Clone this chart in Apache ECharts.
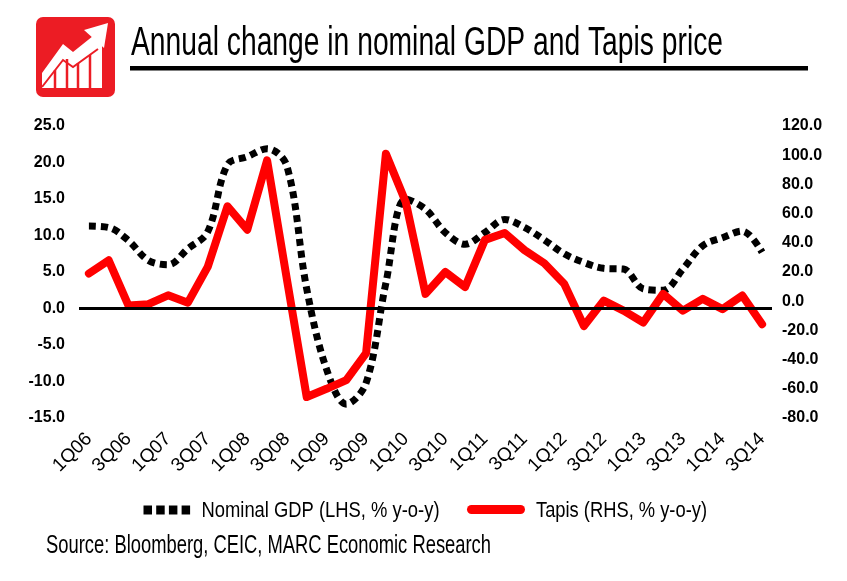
<!DOCTYPE html>
<html>
<head>
<meta charset="utf-8">
<title>Annual change in nominal GDP and Tapis price</title>
<script src="https://cdn.jsdelivr.net/npm/echarts@6/dist/echarts.min.js"></script>
<style>
html,body{margin:0;padding:0;background:#fff;}
#chart{width:847px;height:581px;}
</style>
</head>
<body>
<div id="chart"></div>
<script>
// x axis: quarters 1Q06 - 3Q14
var quarters = ['1Q06','2Q06','3Q06','4Q06','1Q07','2Q07','3Q07','4Q07',
    '1Q08','2Q08','3Q08','4Q08','1Q09','2Q09','3Q09','4Q09',
    '1Q10','2Q10','3Q10','4Q10','1Q11','2Q11','3Q11','4Q11',
    '1Q12','2Q12','3Q12','4Q12','1Q13','2Q13','3Q13','4Q13',
    '1Q14','2Q14','3Q14'];
// nominal GDP, % y-o-y (LHS)
var gdpData = [11.3, 11.1, 9.3, 6.6, 6.0, 8.2, 10.5, 19.7, 20.8, 21.9, 19.5, 2.7,
    -8.3, -13.1, -10.2, 3.5, 15.0, 13.6, 10.4, 8.8, 10.4, 12.2, 11.1, 9.4,
    7.5, 6.3, 5.5, 5.4, 2.7, 2.5, 5.4, 8.6, 9.7, 10.6, 7.7];
// Tapis price, % y-o-y (RHS)
var tapisData = [19, 28, -3, -2, 4, -1, 23.5, 65, 49, 96.5, 15, -65.6,
    -60, -54, -35.5, 101, 68, 5, 20, 9.7, 42, 46.7, 35, 26,
    12, -17, 0.4, -6.5, -14.6, 5, -6.5, 1.6, -5.4, 3.9, -15.8];
// axis ranges [min, max, interval]
var leftAxis = [-15, 25, 5];
var rightAxis = [-80, 120, 20];
var seriesNames = ['Nominal GDP (LHS, % y-o-y)', 'Tapis (RHS, % y-o-y)'];
var titleText = 'Annual change in nominal GDP and Tapis price';
var sourceText = 'Source: Bloomberg, CEIC, MARC Economic Research';

var GdpTapisChart = function(){
    return {
        ops:{
            dom:'chart',
            red:'#ff0000',
            font:'"Liberation Sans", Arial, sans-serif'
        },
        init:function(){
            var myChart = echarts.init(document.getElementById(this.ops.dom));
            myChart.setOption(this.buildOption());
        },
        // horizontal squeeze so a text fits a given width
        textScale:function(text, font, width){
            var ctx = document.createElement('canvas').getContext('2d');
            ctx.font = font;
            return width / ctx.measureText(text).width;
        },
        squeezedText:function(text, size, x, y, width){
            var font = size + 'px ' + this.ops.font;
            return {
                type:'text', x:x, y:y,
                scaleX:this.textScale(text, font, width),
                style:{text:text, font:font, fill:'#000', verticalAlign:'middle'}
            };
        },
        // red icon top left
        iconGraphic:function(){
            return {
                type:'group', x:36, y:17,
                children:[
                    {type:'rect', shape:{x:0, y:0, width:79, height:80, r:7}, style:{fill:'#ec1c24'}},
                    {type:'polygon', shape:{points:[[6,71],[6,56],[27,27],[37,35],[57,19],[64,25],[66,27],[66,71]]}, style:{fill:'#fff'}},
                    {type:'polygon', shape:{points:[[48,13],[72,6],[68,31]]}, style:{fill:'#fff'}},
                    {type:'polyline', shape:{points:[[6,70],[27,43],[37,50],[62,32]]}, style:{stroke:'#ec1c24', lineWidth:2, fill:null}},
                    {type:'line', shape:{x1:19, y1:53, x2:19, y2:72}, style:{stroke:'#ec1c24', lineWidth:2.5}},
                    {type:'line', shape:{x1:31, y1:42, x2:31, y2:72}, style:{stroke:'#ec1c24', lineWidth:2.5}},
                    {type:'line', shape:{x1:42, y1:46, x2:42, y2:72}, style:{stroke:'#ec1c24', lineWidth:2.5}},
                    {type:'line', shape:{x1:54, y1:38, x2:54, y2:72}, style:{stroke:'#ec1c24', lineWidth:2.5}}
                ]
            };
        },
        // legend drawn by hand (squeezed font like the original)
        legendGraphic:function(){
            var items = [];
            for(var k=0; k<4; k++){
                items.push({type:'rect', shape:{x:143.5 + k*12.7, y:505.5, width:8.5, height:9}, style:{fill:'#000'}});
            }
            items.push(this.squeezedText(seriesNames[0], 22, 201.5, 510.5, 238));
            items.push({type:'line', shape:{x1:471.5, y1:509.5, x2:520.5, y2:509.5}, style:{stroke:this.ops.red, lineWidth:9, lineCap:'round'}});
            items.push(this.squeezedText(seriesNames[1], 22, 536, 510.5, 171));
            return {type:'group', children:items};
        },
        buildOption:function(){
            var sef = this;
            var labelFmt = function(v){ return v.toFixed(1); };
            var option = {
                animation:false,
                backgroundColor:'#fff',
                graphic:[
                    sef.iconGraphic(),
                    sef.squeezedText(titleText, 40, 131, 44, 592),
                    {type:'rect', shape:{x:130, y:66, width:678, height:4.5}, style:{fill:'#000'}},
                    sef.legendGraphic(),
                    sef.squeezedText(sourceText, 25, 46, 546, 445)
                ],
                grid:{
                    left:79,
                    right:75,
                    top:126,
                    bottom:163
                },
                xAxis:{
                    type:'category',
                    data:quarters,
                    boundaryGap:true,
                    axisLine:{show:false},
                    axisTick:{show:false},
                    axisLabel:{
                        interval:1,
                        rotate:45,
                        margin:18,
                        color:'#000',
                        fontFamily:sef.ops.font,
                        fontSize:19
                    }
                },
                yAxis:[
                    {
                        type:'value',
                        position:'left',
                        min:leftAxis[0], max:leftAxis[1], interval:leftAxis[2],
                        splitLine:{show:false},
                        axisLine:{show:false},
                        axisTick:{show:false},
                        axisLabel:{formatter:labelFmt, margin:14, color:'#000', fontFamily:sef.ops.font, fontWeight:'bold', fontSize:16}
                    },
                    {
                        type:'value',
                        position:'right',
                        min:rightAxis[0], max:rightAxis[1], interval:rightAxis[2],
                        splitLine:{show:false},
                        axisLine:{show:false},
                        axisTick:{show:false},
                        axisLabel:{formatter:labelFmt, margin:10, color:'#000', fontFamily:sef.ops.font, fontWeight:'bold', fontSize:16}
                    }
                ],
                series:[
                    {
                        name:seriesNames[0],
                        type:'line',
                        yAxisIndex:0,
                        data:gdpData,
                        smooth:0.35,
                        symbol:'none',
                        color:'#000',
                        lineStyle:{color:'#000', width:7, type:[7,5], cap:'butt'},
                        markLine:{
                            silent:true,
                            symbol:['none','none'],
                            label:{show:false},
                            lineStyle:{color:'#000', width:3, type:'solid'},
                            data:[{yAxis:0}]
                        }
                    },
                    {
                        name:seriesNames[1],
                        type:'line',
                        yAxisIndex:1,
                        data:tapisData,
                        symbol:'none',
                        color:sef.ops.red,
                        lineStyle:{color:sef.ops.red, width:8, cap:'round', join:'round'}
                    }
                ]
            };
            return option;
        }
    }
}();
GdpTapisChart.init();
</script>
</body>
</html>
